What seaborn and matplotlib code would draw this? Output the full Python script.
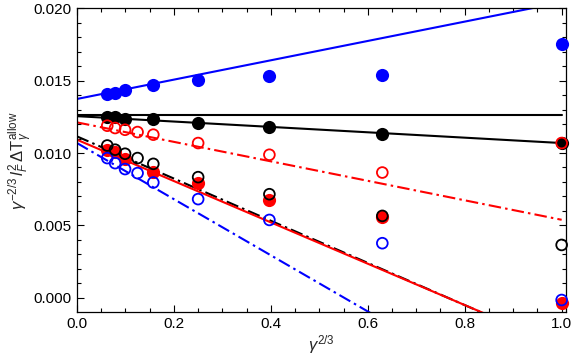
import matplotlib
matplotlib.use("Agg")
import matplotlib.pyplot as plt
import seaborn as sns
import numpy as np
from matplotlib.ticker import MultipleLocator, FormatStrFormatter

sns.set_style("ticks")
plt.rcParams['font.family'] = ['Liberation Sans', 'DejaVu Sans']
plt.rcParams['mathtext.fontset'] = 'custom'
plt.rcParams['mathtext.rm'] = 'Liberation Sans'
plt.rcParams['mathtext.it'] = 'Liberation Sans:italic'
plt.rcParams['mathtext.bf'] = 'Liberation Sans:bold'

# x positions (gamma^(2/3))
x_filled = [0.0625, 0.0787, 0.0992, 0.1575, 0.25, 0.397, 0.63, 1.0]
x_open = [0.0625, 0.0787, 0.0992, 0.125, 0.1575, 0.25, 0.397, 0.63, 1.0]

blue_filled = [0.01409, 0.01416, 0.01438, 0.01473, 0.01506, 0.01533, 0.01540, 0.01757]
black_filled = [0.01249, 0.01249, 0.01237, 0.01237, 0.01208, 0.01180, 0.01133, 0.01069]
red_filled = [0.01018, 0.01004, 0.00958, 0.00872, 0.00792, 0.00676, 0.00556, -0.00036]

red_open = [0.01189, 0.01173, 0.01161, 0.01145, 0.01127, 0.01069, 0.00988, 0.00865, 0.01069]
black_open = [0.01052, 0.01023, 0.00995, 0.00965, 0.00925, 0.00833, 0.00715, 0.00565, 0.00364]
blue_open = [0.00965, 0.00930, 0.00889, 0.00861, 0.00796, 0.00681, 0.00537, 0.00376, -0.00017]

# straight fit lines: end points at x = 0 and x = 1
line_x = [0.0, 1.0]
blue_fit = [0.01374, 0.02043]
black_const = [0.01260, 0.01260]
black_fit = [0.01255, 0.01069]
red_dd_fit = [0.01212, 0.00538]
black_dd_fit = [0.01115, -0.00344]
red_fit = [0.01092, -0.00338]
blue_dd_fit = [0.01069, -0.00873]

fig = plt.figure(figsize=(5.74, 3.63), dpi=100)
ax = fig.add_axes([0.1341, 0.1413, 0.9855 - 0.1341, 0.9766 - 0.1413])

dd = (0, (6, 2, 1.2, 2))
lw = 1.5
sns.lineplot(x=line_x, y=blue_fit, color='blue', lw=lw, ax=ax)
sns.lineplot(x=line_x, y=black_const, color='black', lw=lw, ax=ax)
sns.lineplot(x=line_x, y=black_fit, color='black', lw=lw, ax=ax)
sns.lineplot(x=line_x, y=red_dd_fit, color='red', lw=lw, linestyle=dd, ax=ax)
sns.lineplot(x=line_x, y=black_dd_fit, color='black', lw=lw, linestyle=dd, ax=ax)
sns.lineplot(x=line_x, y=red_fit, color='red', lw=lw, ax=ax)
sns.lineplot(x=line_x, y=blue_dd_fit, color='blue', lw=lw, linestyle=dd, ax=ax)

sf = 90
so = 60
sns.scatterplot(x=x_filled, y=blue_filled, color='blue', s=sf, linewidth=0, ax=ax, zorder=3, clip_on=False)
sns.scatterplot(x=x_filled, y=black_filled, color='black', s=sf, linewidth=0, ax=ax, zorder=3, clip_on=False)
sns.scatterplot(x=x_filled, y=red_filled, color='red', s=sf, linewidth=0, ax=ax, zorder=3, clip_on=False)
sns.scatterplot(x=x_open, y=blue_open, facecolor='none', edgecolor='blue', s=so, linewidth=1.3, ax=ax, zorder=4, clip_on=False)
sns.scatterplot(x=x_open, y=black_open, facecolor='none', edgecolor='black', s=so, linewidth=1.3, ax=ax, zorder=4, clip_on=False)
sns.scatterplot(x=x_open, y=red_open, facecolor='none', edgecolor='red', s=so, linewidth=1.3, ax=ax, zorder=4, clip_on=False)

ax.set_xlim(0, 1.0083)
ax.set_ylim(-0.00098, 0.020)
ax.xaxis.set_major_locator(MultipleLocator(0.2))
ax.xaxis.set_minor_locator(MultipleLocator(0.05))
ax.yaxis.set_major_locator(MultipleLocator(0.005))
ax.yaxis.set_minor_locator(MultipleLocator(0.001))
ax.xaxis.set_major_formatter(FormatStrFormatter('%.1f'))
ax.yaxis.set_major_formatter(FormatStrFormatter('%.3f'))
ax.tick_params(which='both', direction='in', top=True, right=True, labelsize=11, width=0.8, colors='black', pad=4)
ax.tick_params(which='major', length=5)
ax.tick_params(which='minor', length=3)
for sp in ax.spines.values():
    sp.set_visible(True)
    sp.set_color('black')
    sp.set_linewidth(0.9)

ax.set_xlabel(r'$\gamma^{2/3}$', fontsize=12, labelpad=1)
ax.set_ylabel(r'$\gamma^{-2/3}\, l_F^2\, \Delta \mathrm{T}_\gamma^{\mathrm{allow}}$', fontsize=12, labelpad=-1)

fig.savefig('out.png', dpi=100)
